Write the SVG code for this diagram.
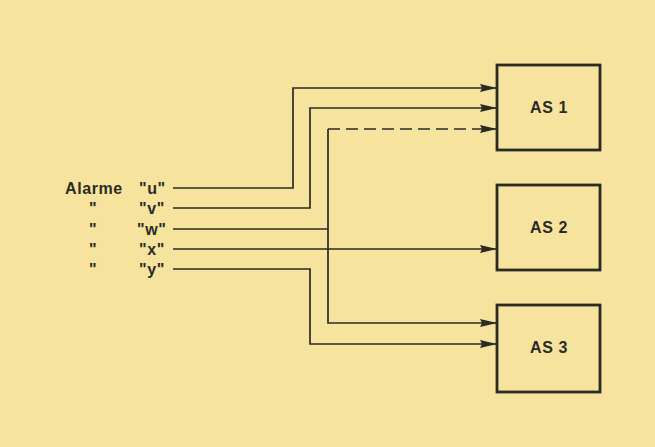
<svg xmlns="http://www.w3.org/2000/svg" width="655" height="447" viewBox="0 0 655 447">
<style>
.ln{fill:none;stroke:#2b2a25;stroke-width:1.7}
.box{fill:none;stroke:#2b2a25;stroke-width:2.8}
.t{font-family:"Liberation Sans",Arial,sans-serif;font-size:16px;font-weight:bold;fill:#2b2a25;letter-spacing:0.6px}
</style>
<defs>
<marker id="ah" markerWidth="17" markerHeight="8" refX="17" refY="4" orient="auto" markerUnits="userSpaceOnUse">
<path d="M0,0 L17,4 L0,8 L2,4 Z" fill="#2b2a25"/>
</marker>
</defs>
<rect width="655" height="447" fill="#f6e49e"/>
<g id="labels">
<text class="t" x="65" y="194">Alarme</text>
<text class="t" x="139" y="194">"u"</text>
<text class="t" x="89" y="214">"</text>
<text class="t" x="139" y="214">"v"</text>
<text class="t" x="89" y="235">"</text>
<text class="t" x="137" y="235">"w"</text>
<text class="t" x="89" y="255">"</text>
<text class="t" x="139" y="255">"x"</text>
<text class="t" x="89" y="275">"</text>
<text class="t" x="139" y="275">"y"</text>
</g>
<g id="AS1"><rect class="box" x="497" y="65" width="103" height="85"/><text class="t" x="549" y="113" text-anchor="middle">AS  1</text></g>
<g id="AS2"><rect class="box" x="497" y="185" width="103" height="85"/><text class="t" x="549" y="233" text-anchor="middle">AS  2</text></g>
<g id="AS3"><rect class="box" x="497" y="305" width="103" height="87"/><text class="t" x="549" y="353" text-anchor="middle">AS  3</text></g>
<g id="connectors">
<polyline class="ln" points="173,188 293,188 293,88 497,88" marker-end="url(#ah)"/>
<polyline class="ln" points="173,208 310,208 310,108 497,108" marker-end="url(#ah)"/>
<polyline class="ln" points="173,229 328,229"/>
<polyline class="ln" points="328,129 328,323 497,323" marker-end="url(#ah)"/>
<line class="ln" x1="328" y1="129" x2="497" y2="129" stroke-dasharray="12,6" marker-end="url(#ah)"/>
<polyline class="ln" points="173,249 497,249" marker-end="url(#ah)"/>
<polyline class="ln" points="173,269 310,269 310,344 497,344" marker-end="url(#ah)"/>
</g>
</svg>
